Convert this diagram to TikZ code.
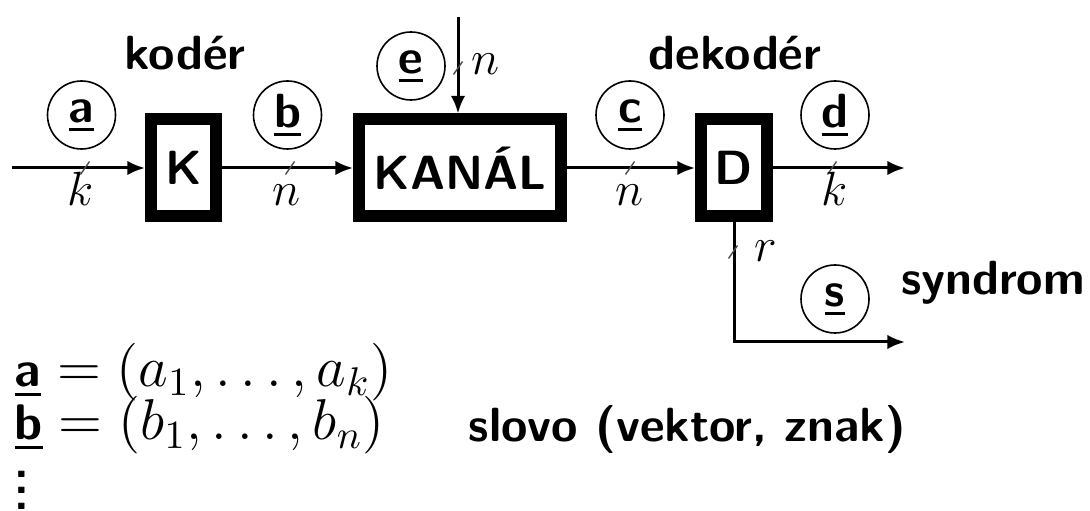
\documentclass[tikz,border=0pt]{standalone}
\usepackage{fontspec}
\usetikzlibrary{arrows.meta}
\newcommand{\ulbar}[1]{\vtop{\hbox{#1}\kern1.3pt\hrule height 0.75pt}}
\newcommand{\bsa}[1]{\ulbar{\fontsize{12.5}{15}\selectfont #1}}
\begin{document}
\begin{tikzpicture}[x=0.25pt,y=-0.25pt,
  every node/.style={font=\fontsize{12}{14.4}\selectfont\sffamily\bfseries},
  blk/.style={draw, line width=3pt, minimum height=24.25pt, inner sep=0pt},
  sig/.style={draw, circle, line width=0.4pt, minimum size=17pt, inner sep=0pt},
  conn/.style={line width=0.75pt, -{Latex[length=4.4pt,width=3.6pt]}},
  tk/.style={line width=0.35pt, black!70},
  lab/.style={inner sep=0pt, anchor=base},
  eqn/.style={inner sep=0pt, anchor=base west, font=\fontsize{14.4}{17}\selectfont\sffamily\bfseries}]
\useasboundingbox (0,0) rectangle (1090,511);
% blocks
\node[blk, minimum width=16.25pt] (K) at (183.5,168) {K};
\node[blk, minimum width=50.5pt] (KAN) at (460,168) {KANÁL};
\node[blk, minimum width=16.5pt] (D) at (734,168) {D};
% headings
\node[lab] (kod) at (185,70) {kodér};
\node[lab] (dek) at (735,70) {dekodér};
\node[lab] (syn) at (993,295) {syndrom};
% signal circles
\node[sig] (ca) at (81.5,115) {\ulbar{a}};
\node[sig] (cb) at (287.5,115) {\ulbar{b}};
\node[sig] (ce) at (411,66) {\ulbar{e}};
\node[sig] (cc) at (630,115) {\ulbar{c}};
\node[sig] (cd) at (835,115) {\ulbar{d}};
\node[sig] (cs) at (835,299) {\ulbar{s}};
% connectors
\coordinate (ain) at (12,168);
\coordinate (dout) at (905,168);
\coordinate (ein) at (458,17);
\coordinate (send) at (905,342);
\draw[conn] (ain) -- (K.west);
\draw[conn] (K.east) -- (KAN.west);
\draw[conn] (KAN.east) -- (D.west);
\draw[conn] (D.east) -- (dout);
\draw[conn] (ein) -- (ein |- KAN.north);
\draw[conn] (D.south) |- (send);
% ticks
\draw[tk] (85,168) ++(-4.5,6.5) -- ++(9,-13);
\draw[tk] (290,168) ++(-4.5,6.5) -- ++(9,-13);
\draw[tk] (630,168) ++(-4.5,6.5) -- ++(9,-13);
\draw[tk] (832,168) ++(-4.5,6.5) -- ++(9,-13);
\draw[tk] (458,68) ++(-4.5,6.5) -- ++(9,-13);
\draw[tk] (733,252) ++(-4.5,6.5) -- ++(9,-13);
% bus widths
\node[lab] (wa) at (81,206) {$k$};
\node[lab] (wb) at (287,206) {$n$};
\node[lab] (we) at (486,75) {$n$};
\node[lab] (wc) at (630,206) {$n$};
\node[lab] (wd) at (835,206) {$k$};
\node[lab] (wr) at (766,262) {$r$};
% bottom text
\node[eqn] (ra) at (14,387) {$\bsa{a} = (a_1,\ldots,a_k)$};
\node[eqn] (rb) at (14,440) {$\bsa{b} = (b_1,\ldots,b_n)$};
\node[inner sep=0pt, anchor=base west] (sl) at (468,442) {slovo (vektor, znak)};
\node[inner sep=0pt, anchor=base] (vd) at (22,510) {$\vdots$};
\end{tikzpicture}
\end{document}
